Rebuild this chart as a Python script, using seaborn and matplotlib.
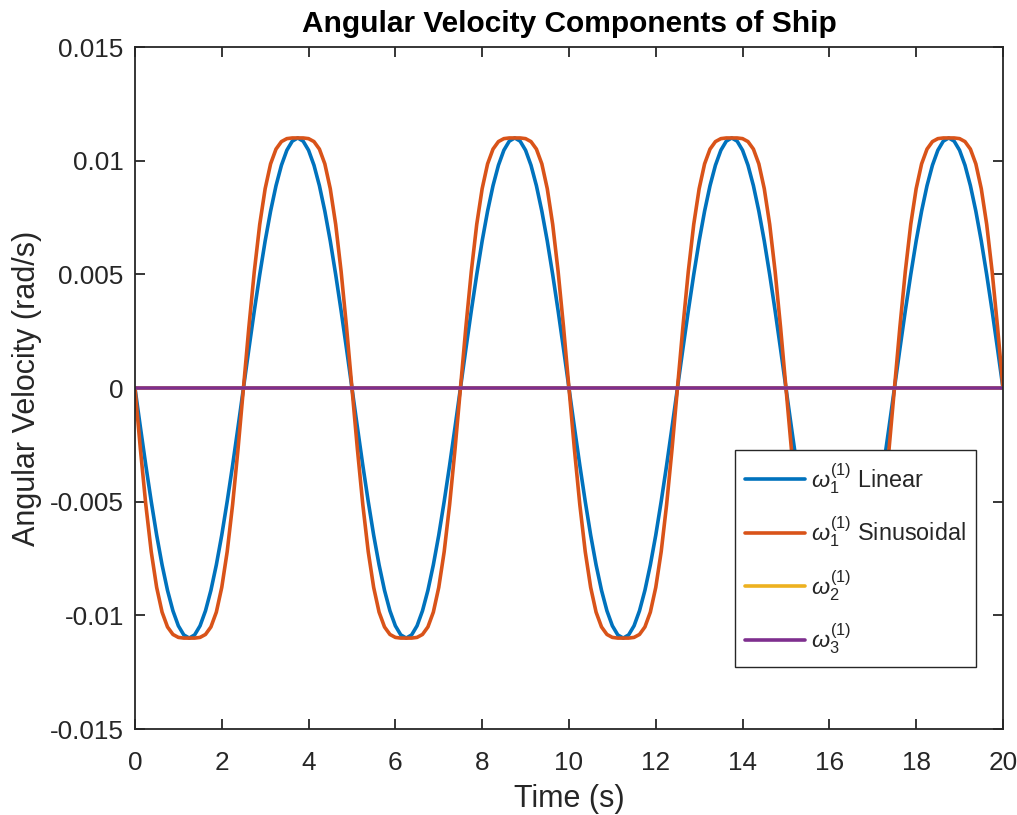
import numpy as np
import pandas as pd
import matplotlib
matplotlib.use("Agg")
import matplotlib.pyplot as plt
import seaborn as sns

# ---- data ----
time = np.linspace(0, 20, 161)  # sample times, s (0.125 s step)

omega1_linear = [
    0, -0.00172, -0.00340, -0.00499, -0.00647, -0.00778, -0.00890, -0.00980, -0.01046, -0.01086,
    -0.01100, -0.01086, -0.01046, -0.00980, -0.00890, -0.00778, -0.00647, -0.00499, -0.00340, -0.00172,
    0, 0.00172, 0.00340, 0.00499, 0.00647, 0.00778, 0.00890, 0.00980, 0.01046, 0.01086,
    0.01100, 0.01086, 0.01046, 0.00980, 0.00890, 0.00778, 0.00647, 0.00499, 0.00340, 0.00172,
    0, -0.00172, -0.00340, -0.00499, -0.00647, -0.00778, -0.00890, -0.00980, -0.01046, -0.01086,
    -0.01100, -0.01086, -0.01046, -0.00980, -0.00890, -0.00778, -0.00647, -0.00499, -0.00340, -0.00172,
    0, 0.00172, 0.00340, 0.00499, 0.00647, 0.00778, 0.00890, 0.00980, 0.01046, 0.01086,
    0.01100, 0.01086, 0.01046, 0.00980, 0.00890, 0.00778, 0.00647, 0.00499, 0.00340, 0.00172,
    0, -0.00172, -0.00340, -0.00499, -0.00647, -0.00778, -0.00890, -0.00980, -0.01046, -0.01086,
    -0.01100, -0.01086, -0.01046, -0.00980, -0.00890, -0.00778, -0.00647, -0.00499, -0.00340, -0.00172,
    0, 0.00172, 0.00340, 0.00499, 0.00647, 0.00778, 0.00890, 0.00980, 0.01046, 0.01086,
    0.01100, 0.01086, 0.01046, 0.00980, 0.00890, 0.00778, 0.00647, 0.00499, 0.00340, 0.00172,
    0, -0.00172, -0.00340, -0.00499, -0.00647, -0.00778, -0.00890, -0.00980, -0.01046, -0.01086,
    -0.01100, -0.01086, -0.01046, -0.00980, -0.00890, -0.00778, -0.00647, -0.00499, -0.00340, -0.00172,
    0, 0.00172, 0.00340, 0.00499, 0.00647, 0.00778, 0.00890, 0.00980, 0.01046, 0.01086,
    0.01100, 0.01086, 0.01046, 0.00980, 0.00890, 0.00778, 0.00647, 0.00499, 0.00340, 0.00172,
    0,
]

omega1_sinusoidal = [
    0, -0.00268, -0.00513, -0.00720, -0.00877, -0.00986, -0.01051, -0.01084, -0.01097, -0.01100,
    -0.01100, -0.01100, -0.01097, -0.01084, -0.01051, -0.00986, -0.00877, -0.00720, -0.00513, -0.00268,
    0, 0.00268, 0.00513, 0.00720, 0.00877, 0.00986, 0.01051, 0.01084, 0.01097, 0.01100,
    0.01100, 0.01100, 0.01097, 0.01084, 0.01051, 0.00986, 0.00877, 0.00720, 0.00513, 0.00268,
    0, -0.00268, -0.00513, -0.00720, -0.00877, -0.00986, -0.01051, -0.01084, -0.01097, -0.01100,
    -0.01100, -0.01100, -0.01097, -0.01084, -0.01051, -0.00986, -0.00877, -0.00720, -0.00513, -0.00268,
    0, 0.00268, 0.00513, 0.00720, 0.00877, 0.00986, 0.01051, 0.01084, 0.01097, 0.01100,
    0.01100, 0.01100, 0.01097, 0.01084, 0.01051, 0.00986, 0.00877, 0.00720, 0.00513, 0.00268,
    0, -0.00268, -0.00513, -0.00720, -0.00877, -0.00986, -0.01051, -0.01084, -0.01097, -0.01100,
    -0.01100, -0.01100, -0.01097, -0.01084, -0.01051, -0.00986, -0.00877, -0.00720, -0.00513, -0.00268,
    0, 0.00268, 0.00513, 0.00720, 0.00877, 0.00986, 0.01051, 0.01084, 0.01097, 0.01100,
    0.01100, 0.01100, 0.01097, 0.01084, 0.01051, 0.00986, 0.00877, 0.00720, 0.00513, 0.00268,
    0, -0.00268, -0.00513, -0.00720, -0.00877, -0.00986, -0.01051, -0.01084, -0.01097, -0.01100,
    -0.01100, -0.01100, -0.01097, -0.01084, -0.01051, -0.00986, -0.00877, -0.00720, -0.00513, -0.00268,
    0, 0.00268, 0.00513, 0.00720, 0.00877, 0.00986, 0.01051, 0.01084, 0.01097, 0.01100,
    0.01100, 0.01100, 0.01097, 0.01084, 0.01051, 0.00986, 0.00877, 0.00720, 0.00513, 0.00268,
    0,
]

time_flat = [0, 20]
omega2 = [0, 0]
omega3 = [0, 0]

series_labels = [r"$\omega_1^{(1)}$ Linear", r"$\omega_1^{(1)}$ Sinusoidal",
                 r"$\omega_2^{(1)}$", r"$\omega_3^{(1)}$"]
series_colors = ["#0072BD", "#D95319", "#EDB120", "#7E2F8E"]

x_ticks = [0, 2, 4, 6, 8, 10, 12, 14, 16, 18, 20]
y_ticks = [-0.015, -0.01, -0.005, 0, 0.005, 0.01, 0.015]
y_tick_labels = ["-0.015", "-0.01", "-0.005", "0", "0.005", "0.01", "0.015"]

# ---- style ----
sns.set_theme(style="ticks")
plt.rcParams["font.family"] = ["Liberation Sans", "DejaVu Sans"]
plt.rcParams["mathtext.fontset"] = "custom"
plt.rcParams["mathtext.rm"] = "Liberation Sans"
plt.rcParams["mathtext.it"] = "Liberation Sans:italic"
plt.rcParams["mathtext.bf"] = "Liberation Sans:bold"

fig = plt.figure(figsize=(10.17, 8.15), dpi=100)
ax = fig.add_axes([0.1327, 0.1055, 0.8535, 0.8368])

df_lin = pd.DataFrame({"t": time, "w": omega1_linear})
df_sin = pd.DataFrame({"t": time, "w": omega1_sinusoidal})
df_2 = pd.DataFrame({"t": time_flat, "w": omega2})
df_3 = pd.DataFrame({"t": time_flat, "w": omega3})

lw = 2.6
for df, lab, col in zip([df_lin, df_sin, df_2, df_3], series_labels, series_colors):
    sns.lineplot(data=df, x="t", y="w", ax=ax, color=col, linewidth=lw,
                 label=lab, estimator=None, sort=False)

ax.set_xlim(0, 20)
ax.set_ylim(-0.015, 0.015)
ax.set_xticks(x_ticks)
ax.set_xticklabels([str(v) for v in x_ticks])
ax.set_yticks(y_ticks)
ax.set_yticklabels(y_tick_labels)

axis_col = "#262626"
for s in ax.spines.values():
    s.set_visible(True)
    s.set_color(axis_col)
    s.set_linewidth(1.3)
ax.tick_params(direction="in", length=7, width=1.3, colors=axis_col,
               labelsize=18.8, top=True, right=True)
ax.tick_params(axis="x", pad=15.5)
ax.tick_params(axis="y", pad=8)
for lab in ax.get_xticklabels() + ax.get_yticklabels():
    lab.set_color(axis_col)

ax.set_xlabel("Time (s)", fontsize=22, color=axis_col, labelpad=7)
ax.set_ylabel("Angular Velocity (rad/s)", fontsize=22, color=axis_col, labelpad=6)
ax.set_title("Angular Velocity Components of Ship", fontsize=21.5, fontweight="bold",
             color="black", pad=11)

leg = ax.legend(loc="lower left", bbox_to_anchor=(0.691, 0.091), fontsize=16.8,
                frameon=True, fancybox=False, framealpha=1, edgecolor=axis_col,
                handlelength=2.55, handletextpad=0.25, labelspacing=0.8,
                borderpad=0.45, borderaxespad=0)
leg.get_frame().set_linewidth(1.0)
for h in leg.get_lines():
    h.set_linewidth(lw)

fig.savefig("out.png", dpi=100, facecolor="white")
